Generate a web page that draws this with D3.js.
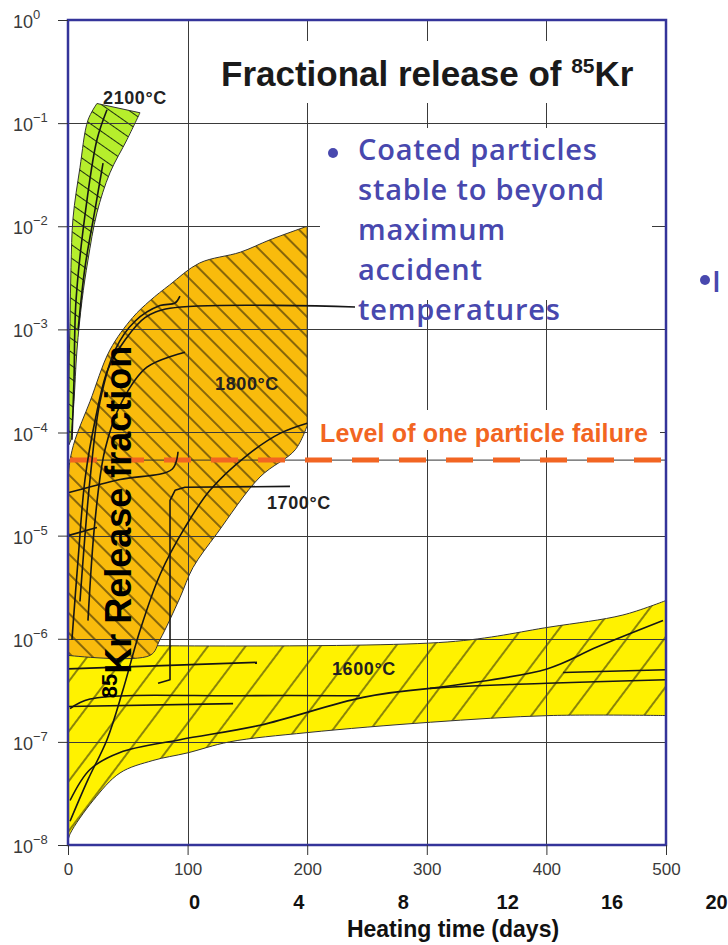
<!DOCTYPE html>
<html>
<head>
<meta charset="utf-8">
<script src="https://cdn.jsdelivr.net/npm/d3@7"></script>
<style>
  html, body { margin: 0; padding: 0; background: #fff; overflow: hidden; }
  svg { display: block; }
</style>
</head>
<body>
<div id="chart"></div>
<script>
// ---- values ----
// x: heating time (h), y: 85Kr release fraction (log)
const xTicks = [0, 100, 200, 300, 400, 500];
const yTicks = [1e-8, 1e-7, 1e-6, 1e-5, 1e-4, 1e-3, 1e-2, 1e-1, 1];
const dayTicks = [0, 4, 8, 12, 16, 20];
const gridX = [100, 200, 300, 400];

// bands as [hours, fraction]
const band2100Left = [[0.8, 7.6e-5], [0.8, 3.2e-4], [1.7, 1.2e-3], [2.5, 4.0e-3], [4.2, 1.2e-2], [10, 3.7e-2], [16.7, 0.107], [24.2, 0.155]];
const band2100Right = [[60.2, 0.126], [49.3, 6.9e-2], [35.1, 3.3e-2], [24.2, 1.35e-2], [16.7, 4.7e-3], [11.7, 1.9e-3], [7.5, 6.3e-4], [5.0, 2.0e-4], [2.5, 8.5e-5]];

const band1800Upper = [[0, 3.5e-5], [1.7, 5.4e-5], [5.9, 8.5e-5], [18.4, 2.0e-4], [35, 6.3e-4], [54, 1.3e-3], [68.6, 1.9e-3], [85, 2.7e-3], [110, 4.4e-3], [144, 5.6e-3], [169, 7.4e-3], [200, 1.0e-2]];
const band1800Lower = [[200, 1.17e-4], [190, 6.8e-5], [160.5, 3.7e-5], [124.6, 1.05e-5], [104.5, 4.9e-6], [93.6, 2.5e-6], [76.9, 9.8e-7], [68.6, 6.9e-7], [0, 6.9e-7]];

const band1600Upper = [[0, 8.7e-7], [317, 9.3e-7], [403, 1.3e-6], [464, 1.7e-6], [500, 2.35e-6]];
const band1600Lower = [[500, 1.8e-7], [403, 1.8e-7], [303, 1.55e-7], [200, 1.23e-7], [135, 1.0e-7], [99.5, 7.8e-8], [71, 6.6e-8], [43.5, 5.0e-8], [21, 2.7e-8], [2, 1.3e-8], [0, 1.1e-8]];

// single test curves drawn inside the bands
const run2100a = [[3.3, 8.5e-5], [5, 3.2e-4], [6.7, 1.9e-3], [15.9, 1.8e-2], [24.2, 6.9e-2], [32.6, 0.135]];
const run2100b = [[8.4, 9.8e-4], [14.2, 4.0e-3], [22.6, 1.45e-2], [29.3, 4.1e-2]];

const run1800a = [[3.3, 9.8e-7], [8.4, 5.8e-6], [14.2, 3.5e-5], [22.6, 1.3e-4], [33.4, 4.1e-4], [47.7, 7.9e-4], [64.4, 1.3e-3], [85.3, 1.6e-3], [240, 1.65e-3]];
const run1800b = [[10, 2.3e-6], [18.4, 3.5e-5], [26.8, 2.0e-4], [39.3, 6.3e-4], [56, 1.2e-3], [76.9, 1.7e-3], [89.5, 1.8e-3], [93.6, 2.1e-3]];
const run1800c = [[16.7, 1.5e-6], [22.6, 1.4e-5], [30.9, 6.8e-5], [45.2, 2.0e-4], [66, 4.3e-4], [97.8, 6.0e-4]];
const run1800d = [[1.7, 1.7e-8], [16.7, 4.3e-8], [32.6, 1.05e-7], [46, 3.2e-7], [60.2, 1.2e-6], [77, 4.2e-6], [97.8, 1.2e-5], [118.7, 2.75e-5], [149.7, 6.0e-5], [177.3, 9.8e-5], [200, 1.23e-4]];
const run1800e = [[0, 2.6e-5], [43.5, 3.5e-5], [87, 4.4e-5], [92, 6.5e-5]];
const run1800f = [[0, 1.0e-5], [24.2, 1.2e-5]];
const run1700 = [[185.6, 3.0e-5], [97.8, 2.95e-5], [89.5, 2.75e-5], [85.3, 2.2e-5], [85.3, 4.0e-7], [75.3, 3.7e-7]];

const run1600a = [[0, 5.1e-7], [158, 5.9e-7]];
const run1600b = [[1.7, 2.1e-7], [18.4, 2.6e-7], [143.8, 2.8e-7], [244, 2.8e-7]];
const run1600c = [[0, 2.2e-7], [138, 2.35e-7]];
const run1600d = [[1.7, 2.7e-8], [18.4, 5.4e-8], [43.5, 7.9e-8], [93.6, 1.05e-7], [160.5, 1.45e-7], [246.7, 2.7e-7], [302.7, 3.3e-7], [400.5, 3.7e-7], [500, 4.0e-7]];
const run1600e = [[302.7, 3.3e-7], [400.5, 5.1e-7], [442.3, 8.3e-7], [497.5, 1.5e-6]];
const run1600f = [[414, 4.7e-7], [500, 5.0e-7]];

const oneParticleLevel = 5.4e-5;

const bulletLines = ["Coated particles", "stable to beyond", "maximum", "accident", "temperatures"];

// ---- layout ----
const W = 728, H = 945;
const margin = { top: 20, left: 68, right: 62, bottom: 100 };
const innerW = W - margin.left - margin.right;
const innerH = H - margin.top - margin.bottom;

const x = d3.scaleLinear().domain([0, 500]).range([margin.left, margin.left + innerW]);
const y = d3.scaleLog().domain([1e-8, 1]).range([margin.top + innerH, margin.top]);
const xDays = d3.scaleLinear().domain([0, 20]).range([194, 716]);

const svg = d3.select('#chart').append('svg')
    .attr('width', W).attr('height', H)
    .style('font-family', "'Liberation Sans', Arial, Helvetica, sans-serif");

svg.append('rect').attr('width', W).attr('height', H).attr('fill', '#fff');

const defs = svg.append('defs');

function hatch(id, spacing, angle, color, w) {
    let p = defs.append('pattern')
        .attr('id', id)
        .attr('patternUnits', 'userSpaceOnUse')
        .attr('width', spacing).attr('height', spacing)
        .attr('patternTransform', `rotate(${angle})`);
    p.append('line')
        .attr('x1', spacing / 2).attr('y1', 0)
        .attr('x2', spacing / 2).attr('y2', spacing)
        .attr('stroke', color).attr('stroke-width', w);
}
hatch('h1600', 30, 37, '#2a2a10', 1.1);
hatch('h1800', 14, -45, '#2a2008', 1.1);
hatch('h2100', 11, -55, '#1e3010', 1);

const line = d3.line()
    .x(d => x(d[0]))
    .y(d => y(d[1]))
    .curve(d3.curveCatmullRom.alpha(0.5));

// closed shape from two smooth edges
function bandPath(a, b) {
    return line(a) + line(b).replace(/^M/, 'L') + 'Z';
}

const bands = [
    { a: band1600Upper, b: band1600Lower, fill: '#fff200', hatch: 'h1600' },
    { a: band1800Upper, b: band1800Lower, fill: '#f9bb0c', hatch: 'h1800' },
    { a: band2100Left, b: band2100Right, fill: '#b6ee2c', hatch: 'h2100' }
];

const gBands = svg.append('g');
bands.forEach(function (bd) {
    let d = bandPath(bd.a, bd.b);
    gBands.append('path').attr('d', d).attr('fill', bd.fill);
    gBands.append('path').attr('d', d).attr('fill', `url(#${bd.hatch})`);
    gBands.append('path').attr('d', d).attr('fill', 'none')
        .attr('stroke', '#333').attr('stroke-width', 1);
});

// grid
const gGrid = svg.append('g').attr('stroke', '#3a3a3a').attr('stroke-width', 1);
gGrid.selectAll('.gy').data(yTicks.slice(1, -1)).join('line')
    .attr('x1', x(0)).attr('x2', x(500))
    .attr('y1', d => Math.round(y(d)) + 0.5).attr('y2', d => Math.round(y(d)) + 0.5);
gGrid.selectAll('.gx').data(gridX).join('line')
    .attr('x1', d => Math.round(x(d)) + 0.5).attr('x2', d => Math.round(x(d)) + 0.5)
    .attr('y1', y(1)).attr('y2', y(1e-8));

// white boxes behind the annotations
const boxes = svg.append('g').attr('fill', '#fff');
boxes.append('rect').attr('x', 200).attr('y', 41).attr('width', 460).attr('height', 62);
boxes.append('rect').attr('x', 320).attr('y', 128).attr('width', 332).attr('height', 172);
boxes.append('rect').attr('x', 308).attr('y', 410).attr('width', 352).attr('height', 40);

// title
let title = svg.append('text')
    .attr('x', 221).attr('y', 86)
    .attr('font-size', 35).attr('font-weight', 'bold').attr('fill', '#1a1a1a');
title.append('tspan').text('Fractional release of ');
title.append('tspan').attr('font-size', 21).attr('dy', -13).text('85');
title.append('tspan').attr('dy', 13).text('Kr');

// bullet text
const blue = '#4848ae';
svg.append('circle').attr('cx', 333).attr('cy', 153).attr('r', 5).attr('fill', blue);
svg.append('g')
    .selectAll('text').data(bulletLines).join('text')
    .attr('x', 358)
    .attr('y', (d, i) => 160 + i * 40)
    .attr('font-family', "'Open Sans', 'DejaVu Sans', sans-serif")
    .attr('font-weight', 600)
    .attr('font-size', 29)
    .attr('letter-spacing', 0.8)
    .attr('fill', blue)
    .text(d => d);

// second bullet, cut by the page edge
svg.append('circle').attr('cx', 705).attr('cy', 280).attr('r', 5).attr('fill', blue);
svg.append('text').attr('x', 712).attr('y', 292)
    .attr('font-family', "'Open Sans', 'DejaVu Sans', sans-serif")
    .attr('font-weight', 600).attr('font-size', 29).attr('fill', blue).text('I');

// level of one particle failure
const orange = '#f26522';
svg.append('text')
    .attr('x', 320).attr('y', 442)
    .attr('font-size', 25).attr('font-weight', 'bold').attr('fill', orange)
    .attr('letter-spacing', 0.15)
    .text('Level of one particle failure');

svg.append('line')
    .attr('x1', x(0)).attr('x2', x(500))
    .attr('y1', y(oneParticleLevel)).attr('y2', y(oneParticleLevel))
    .attr('stroke', '#333').attr('stroke-width', 1);
svg.append('line')
    .attr('x1', x(0) + 2).attr('x2', x(500) - 4)
    .attr('y1', y(oneParticleLevel)).attr('y2', y(oneParticleLevel))
    .attr('stroke', orange).attr('stroke-width', 5)
    .attr('stroke-dasharray', '27,20');

// test curves
const runs = [run2100a, run2100b, run1800a, run1800b, run1800c, run1800d, run1800e, run1800f,
    run1600a, run1600b, run1600c, run1600d, run1600e, run1600f];
svg.append('g').selectAll('path').data(runs).join('path')
    .attr('d', line)
    .attr('fill', 'none').attr('stroke', '#161616').attr('stroke-width', 1.6);

svg.append('path')
    .attr('d', d3.line().x(d => x(d[0])).y(d => y(d[1]))(run1700))
    .attr('fill', 'none').attr('stroke', '#161616').attr('stroke-width', 1.6)
    .attr('stroke-linejoin', 'round');

// band labels
function tempLabel(t, hx, fy) {
    svg.append('text')
        .attr('x', x(hx)).attr('y', y(fy))
        .attr('font-size', 18).attr('font-weight', 'bold')
        .attr('letter-spacing', 0.6).attr('fill', '#222')
        .text(t);
}
tempLabel('2100°C', 29.3, 0.153);
tempLabel('1800°C', 123, 2.6e-4);
tempLabel('1700°C', 166.4, 1.8e-5);
tempLabel('1600°C', 220.7, 4.5e-7);

// frame
const frame = '#34349a';
svg.append('rect')
    .attr('x', x(0)).attr('y', y(1))
    .attr('width', x(500) - x(0)).attr('height', y(1e-8) - y(1))
    .attr('fill', 'none').attr('stroke', frame).attr('stroke-width', 2.5);

// y axis
let gy = svg.append('g')
    .attr('transform', `translate(${x(0)},0)`)
    .call(d3.axisLeft(y).tickValues(yTicks).tickSize(10).tickFormat(''));
gy.select('.domain').remove();
gy.selectAll('.tick line').attr('stroke', '#333');
yTicks.forEach(function (d) {
    let e = Math.round(Math.log10(d));
    let t = svg.append('text')
        .attr('x', 13).attr('y', y(d) + 8)
        .attr('font-size', 18).attr('fill', '#3a3a3a');
    t.append('tspan').text('10');
    t.append('tspan').attr('font-size', 13).attr('dy', -9)
        .text(e === 0 ? '0' : '\u2212' + (-e));
});

// x axis (hours)
let gx = svg.append('g')
    .attr('transform', `translate(0,${y(1e-8)})`)
    .call(d3.axisBottom(x).tickValues(xTicks).tickSize(10).tickPadding(8));
gx.select('.domain').remove();
gx.selectAll('.tick line').attr('stroke', '#333');
gx.selectAll('.tick text')
    .attr('font-size', 17).attr('fill', '#3a3a3a')
    .attr('font-family', "'Liberation Sans', Arial, sans-serif");

// second x axis (days)
let gd = svg.append('g')
    .attr('transform', 'translate(0,895)')
    .call(d3.axisBottom(xDays).tickValues(dayTicks).tickSize(0).tickPadding(0));
gd.select('.domain').remove();
gd.selectAll('.tick text')
    .attr('font-size', 20).attr('font-weight', 'bold').attr('fill', '#111')
    .attr('font-family', "'Liberation Sans', Arial, sans-serif");

svg.append('text')
    .attr('x', 453).attr('y', 937)
    .attr('text-anchor', 'middle')
    .attr('font-size', 23).attr('font-weight', 'bold').attr('fill', '#111')
    .text('Heating time (days)');

// y axis title, drawn over the bands
let yt = svg.append('text')
    .attr('transform', 'translate(131,522) rotate(-90)')
    .attr('text-anchor', 'middle')
    .attr('font-size', 36).attr('font-weight', 'bold').attr('fill', '#000');
yt.append('tspan').attr('font-size', 22).attr('dy', -14).text('85');
yt.append('tspan').attr('dy', 14).text('Kr Release fraction');
</script>
</body>
</html>
